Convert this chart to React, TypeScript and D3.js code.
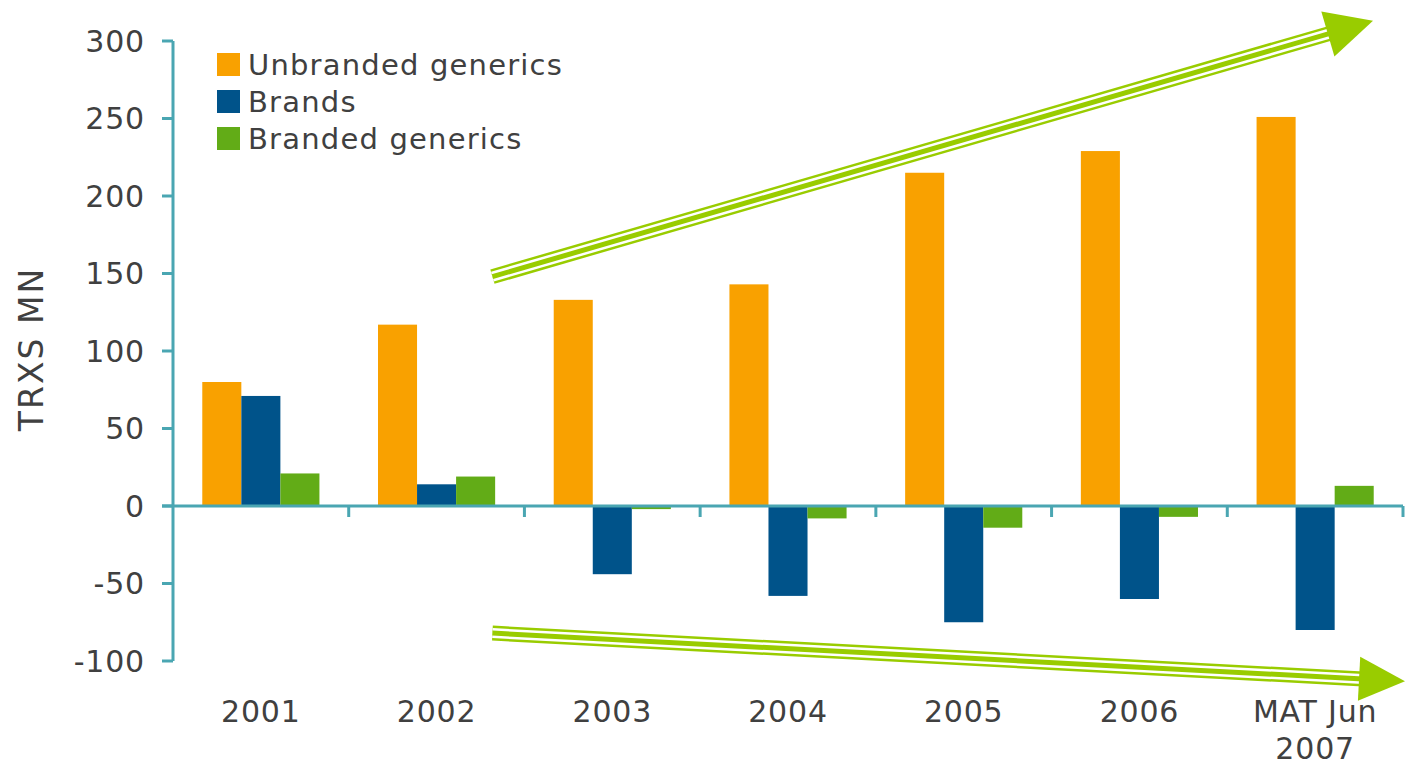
import React from "react";
import * as d3 from "d3";

const categories = ["2001", "2002", "2003", "2004", "2005", "2006", "MAT Jun\n2007"];
const seriesNames = ["Unbranded generics", "Brands", "Branded generics"];
const unbrandedGenerics = [80, 117, 133, 143, 215, 229, 251];
const brands = [71, 14, -44, -58, -75, -60, -80];
const brandedGenerics = [21, 19, -2, -8, -14, -7, 13];
const yTicks = [-100, -50, 0, 50, 100, 150, 200, 250, 300];
const colors = ["#F9A100", "#00538A", "#62AC17"];

const W = 1406;
const H = 765;
const axisColor = "#4AA6B2";
const textColor = "#404040";
const arrowGreen = "#99CC00";
const FONT = "Verdana, 'DejaVu Sans', sans-serif";

function Arrow({ x1, y1, x2, y2, headLen, headW }: { x1: number; y1: number; x2: number; y2: number; headLen: number; headW: number }) {
  const dx = x2 - x1, dy = y2 - y1;
  const len = Math.hypot(dx, dy);
  const ux = dx / len, uy = dy / len;
  const px = -uy, py = ux;
  const bx = x2 - ux * headLen, by = y2 - uy * headLen;
  const lx = x2 - ux * (headLen - 4), ly = y2 - uy * (headLen - 4);
  const line = `M${x1},${y1}L${lx},${ly}`;
  const head = `M${x2},${y2}L${bx + px * headW / 2},${by + py * headW / 2}L${bx - px * headW / 2},${by - py * headW / 2}Z`;
  return (
    <g>
      <path d={line} stroke={arrowGreen} strokeWidth={15} fill="none" />
      <path d={line} stroke="#fff" strokeWidth={10} fill="none" />
      <path d={line} stroke={arrowGreen} strokeWidth={5} fill="none" />
      <path d={head} fill={arrowGreen} />
    </g>
  );
}

export default function App() {
  const left = 173, right = 1403;
  const y = d3.scaleLinear().domain([-100, 300]).range([661, 41]);
  const x = d3.scaleBand<string>().domain(categories).range([left, right]).paddingInner(0).paddingOuter(0);
  const bw = x.bandwidth();
  const barW = bw / (3 + 1.5);
  const series = [unbrandedGenerics, brands, brandedGenerics];
  const y0 = y(0);

  return (
    <svg width={W} height={H} style={{ position: "absolute", left: 0, top: 0, background: "#fff" }} fontFamily={FONT}>
      <rect width={W} height={H} fill="#fff" />
      {/* bars */}
      {series.map((vals, si) =>
        vals.map((v, ci) => {
          const bx = (x(categories[ci]) as number) + barW * 0.75 + si * barW;
          const top = y(Math.max(0, v));
          const h = Math.abs(y(v) - y0);
          return <rect key={`${si}-${ci}`} x={bx} y={top} width={barW} height={h} fill={colors[si]} />;
        })
      )}
      {/* y axis */}
      <line x1={left} x2={left} y1={y(300)} y2={y(-100)} stroke={axisColor} strokeWidth={3} />
      {yTicks.map((t) => (
        <g key={t}>
          <line x1={left - 11} x2={left} y1={y(t)} y2={y(t)} stroke={axisColor} strokeWidth={3} />
          <text x={145} y={y(t)} dy="0.36em" textAnchor="end" fontSize={30} letterSpacing={0.8} fill={textColor}>{t}</text>
        </g>
      ))}
      {/* x axis */}
      <line x1={left - 11} x2={right} y1={y0} y2={y0} stroke={axisColor} strokeWidth={3} />
      {categories.map((c) => (
        <line key={c} x1={(x(c) as number) + bw} x2={(x(c) as number) + bw} y1={y0} y2={y0 + 11} stroke={axisColor} strokeWidth={3} />
      ))}
      {categories.map((c) => {
        const lines = c.split("\n");
        const cx = (x(c) as number) + bw / 2;
        return (
          <text key={c} x={cx} y={722} textAnchor="middle" fontSize={30} letterSpacing={0.8} fill={textColor}>
            {lines.map((l, i) => (
              <tspan key={i} x={cx} dy={i === 0 ? 0 : 37}>{l}</tspan>
            ))}
          </text>
        );
      })}
      {/* y title */}
      <text transform={`translate(43,${y(100) - 2}) rotate(-90)`} textAnchor="middle" fontSize={33} letterSpacing={2} fill={textColor}>TRXS MN</text>
      {/* legend */}
      {seriesNames.map((n, i) => (
        <g key={n} transform={`translate(217,${53 + i * 37})`}>
          <rect width={23} height={23} fill={colors[i]} />
          <text x={31} y={11.5} dy="0.36em" fontSize={29} letterSpacing={1.2} fill={textColor}>{n}</text>
        </g>
      ))}
      {/* arrows */}
      <Arrow x1={(x("2003") as number) - 32} y1={y(148)} x2={1373} y2={y(313)} headLen={47} headW={47} />
      <Arrow x1={(x("2003") as number) - 32} y1={y(-82)} x2={1405} y2={y(-113)} headLen={46} headW={44} />
    </svg>
  );
}
